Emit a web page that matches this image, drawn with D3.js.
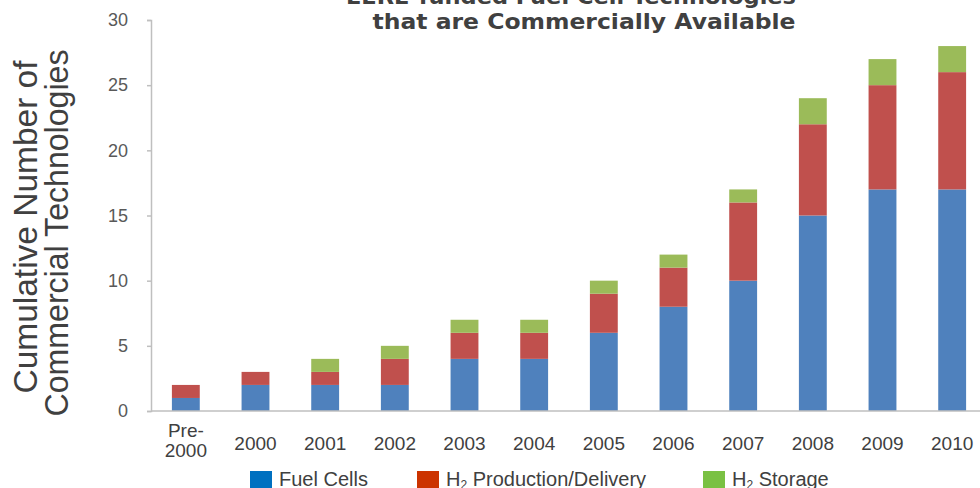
<!DOCTYPE html>
<html>
<head>
<meta charset="utf-8">
<script src="https://cdn.jsdelivr.net/npm/d3@7"></script>
<style>
  html, body { margin: 0; padding: 0; background: #fff; }
  svg { display: block; }
</style>
</head>
<body>
<svg id="chart" width="980" height="488"></svg>
<script>
// Cumulative counts of commercial technologies by year
const categories = ["Pre-2000", "2000", "2001", "2002", "2003", "2004", "2005", "2006", "2007", "2008", "2009", "2010"];
const fuelCells    = [1, 2, 2, 2, 4, 4, 6, 8, 10, 15, 17, 17];
const h2Production = [1, 1, 1, 2, 2, 2, 3, 3, 6, 7, 8, 9];
const h2Storage    = [0, 0, 1, 1, 1, 1, 1, 1, 1, 2, 2, 2];
const yTicks = [0, 5, 10, 15, 20, 25, 30];

const seriesKeys = ["fc", "prod", "stor"];
const barColors = { fc: "#4f81bd", prod: "#c0504d", stor: "#9bbb59" };
const legendColors = { fc: "#0070c0", prod: "#cc3300", stor: "#7ac143" };

const rows = categories.map((c, i) => ({ cat: c, fc: fuelCells[i], prod: h2Production[i], stor: h2Storage[i] }));
const stacked = d3.stack().keys(seriesKeys)(rows);

const svg = d3.select("#chart");
const font = "'Liberation Sans', Arial, sans-serif";

const x = d3.scaleBand().domain(categories).range([151, 987]).paddingInner(0.6).paddingOuter(0.3);
const y = d3.scaleLinear().domain([0, 30]).range([411, 20]);

// Title (top line runs off the top edge)
const titleFont = "'DejaVu Sans', Verdana, sans-serif";
svg.append("text")
  .attr("x", 571).attr("y", 4)
  .attr("text-anchor", "middle")
  .attr("font-family", titleFont).attr("font-weight", "bold").attr("font-size", 22)
  .attr("fill", "#404040")
  .attr("textLength", 450).attr("lengthAdjust", "spacingAndGlyphs")
  .text("EERE-funded Fuel Cell Technologies");
svg.append("text")
  .attr("x", 584).attr("y", 29)
  .attr("text-anchor", "middle")
  .attr("font-family", titleFont).attr("font-weight", "bold").attr("font-size", 22)
  .attr("fill", "#404040")
  .attr("textLength", 423).attr("lengthAdjust", "spacingAndGlyphs")
  .text("that are Commercially Available");

// Y axis
const yAxis = svg.append("g")
  .attr("transform", "translate(151,0)")
  .call(d3.axisLeft(y).tickValues(yTicks).tickSize(4).tickPadding(19));
yAxis.select(".domain").attr("stroke", "#bfbfbf").attr("stroke-width", 1.5);
yAxis.selectAll(".tick line").attr("stroke", "#bfbfbf").attr("stroke-width", 1.5);
yAxis.selectAll(".tick text")
  .attr("font-family", font).attr("font-size", 18).attr("fill", "#595959");

// Bars
svg.append("g").selectAll("g")
  .data(stacked)
  .join("g")
  .attr("fill", d => barColors[d.key])
  .selectAll("rect")
  .data(d => d.filter(s => s[1] > s[0]))
  .join("rect")
  .attr("x", d => x(d.data.cat))
  .attr("width", x.bandwidth())
  .attr("y", d => y(d[1]))
  .attr("height", d => y(d[0]) - y(d[1]));

// X axis
const xAxis = svg.append("g")
  .attr("transform", "translate(0,411)")
  .call(d3.axisBottom(x).tickSize(0).tickPadding(0));
xAxis.select(".domain").attr("stroke", "#bfbfbf").attr("stroke-width", 1.5)
  .attr("d", "M151,0H980");
xAxis.selectAll(".tick text").remove();
xAxis.selectAll(".tick").each(function(d) {
  const t = d3.select(this).append("text")
    .attr("text-anchor", "middle")
    .attr("font-family", font).attr("font-size", 19).attr("fill", "#404040");
  if (d === "Pre-2000") {
    t.append("tspan").attr("x", 0).attr("y", 26).text("Pre-");
    t.append("tspan").attr("x", 0).attr("y", 46).text("2000");
  } else {
    t.attr("y", 39).text(d);
  }
});

// Y axis title, two rotated lines
const yTitleLines = [
  { text: "Cumulative Number of", base: 37, mid: 227, len: 333 },
  { text: "Commercial Technologies", base: 68, mid: 233, len: 367 }
];
yTitleLines.forEach(l => {
  svg.append("text")
    .attr("transform", `translate(${l.base},${l.mid}) rotate(-90)`)
    .attr("text-anchor", "middle")
    .attr("font-family", font).attr("font-size", 34).attr("fill", "#404040")
    .attr("textLength", l.len).attr("lengthAdjust", "spacingAndGlyphs")
    .text(l.text);
});

// Legend
const legendItems = [
  { key: "fc", x: 250, parts: [["Fuel Cells", false]] },
  { key: "prod", x: 417, parts: [["H", false], ["2", true], [" Production/Delivery", false]] },
  { key: "stor", x: 703, parts: [["H", false], ["2", true], [" Storage", false]] }
];
const lg = svg.append("g");
legendItems.forEach(it => {
  lg.append("rect").attr("x", it.x).attr("y", 471).attr("width", 22).attr("height", 20)
    .attr("fill", legendColors[it.key]);
  const t = lg.append("text").attr("x", it.x + 29).attr("y", 486)
    .attr("font-family", font).attr("font-size", 20).attr("fill", "#404040");
  it.parts.forEach(([s, sub]) => {
    const ts = t.append("tspan").text(s);
    if (sub) ts.attr("font-size", 12).attr("dy", 3);
    else if (s.startsWith(" ")) ts.attr("dy", -3);
  });
});
</script>
</body>
</html>
